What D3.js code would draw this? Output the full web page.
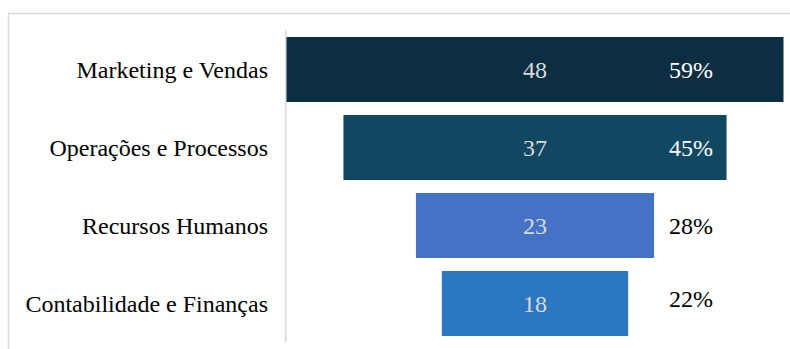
<!DOCTYPE html>
<html>
<head>
<meta charset="utf-8">
<script src="https://cdn.jsdelivr.net/npm/d3@7"></script>
<style>
  html, body { margin: 0; padding: 0; background: #ffffff; }
  svg { display: block; }
</style>
</head>
<body>
<svg id="chart" width="790" height="349"></svg>
<script>
// Funnel of departments: count of respondents and share of total
const categories = ["Marketing e Vendas", "Operações e Processos", "Recursos Humanos", "Contabilidade e Finanças"];
const counts = [48, 37, 23, 18];
const shares = [59, 45, 28, 22];
const barColors = ["#0c2e42", "#104862", "#4472c4", "#2b77c1"];

const FONT = "'Liberation Serif', 'Times New Roman', Times, serif";
const svg = d3.select("#chart");
const W = 790, H = 349;

// outer chart frame
svg.append("rect")
  .attr("x", 8.5).attr("y", 13.5)
  .attr("width", W + 10).attr("height", H + 10)
  .attr("fill", "none").attr("stroke", "#d9d9d9").attr("stroke-width", 1.5);

const centerX = 535;
const y = d3.scaleBand()
  .domain(categories)
  .range([30.5, 342.5])
  .paddingInner(1 / 6)
  .paddingOuter(1 / 12);

const w = d3.scaleLinear().domain([0, 48]).range([0, 497]);

// category axis line
svg.append("line")
  .attr("x1", 285.75).attr("x2", 285.75)
  .attr("y1", y.range()[0]).attr("y2", y.range()[1])
  .attr("stroke", "#d9d9d9").attr("stroke-width", 1.5);

const rows = categories.map((c, i) => ({ c, n: counts[i], p: shares[i], color: barColors[i], i }));

// centred funnel bars
svg.selectAll("rect.bar").data(rows).join("rect")
  .attr("class", "bar")
  .attr("x", d => centerX - w(d.n) / 2)
  .attr("y", d => y(d.c))
  .attr("width", d => w(d.n))
  .attr("height", y.bandwidth())
  .attr("fill", d => d.color);

// category labels
svg.selectAll("text.cat").data(rows).join("text")
  .attr("class", "cat")
  .attr("x", 268)
  .attr("y", d => y(d.c) + y.bandwidth() / 2)
  .attr("dy", "0.35em")
  .attr("text-anchor", "end")
  .attr("font-family", FONT)
  .attr("font-size", 24)
  .attr("fill", "#000000")
  .text(d => d.c);

// count labels inside the bars
svg.selectAll("text.val").data(rows).join("text")
  .attr("class", "val")
  .attr("x", centerX)
  .attr("y", d => y(d.c) + y.bandwidth() / 2)
  .attr("dy", "0.35em")
  .attr("text-anchor", "middle")
  .attr("font-family", FONT)
  .attr("font-size", 24)
  .attr("fill", "#d9d9d9")
  .text(d => d.n);

// share labels; white when sitting on a bar, black otherwise
const pctX = 691;
svg.selectAll("text.pct").data(rows).join("text")
  .attr("class", "pct")
  .attr("x", pctX)
  .attr("y", d => y(d.c) + y.bandwidth() / 2 - (d.i === rows.length - 1 ? 5 : 0))
  .attr("dy", "0.35em")
  .attr("text-anchor", "middle")
  .attr("font-family", FONT)
  .attr("font-size", 24)
  .attr("fill", d => (centerX + w(d.n) / 2 > pctX + 25) ? "#ffffff" : "#000000")
  .text(d => d.p + "%");
</script>
</body>
</html>
